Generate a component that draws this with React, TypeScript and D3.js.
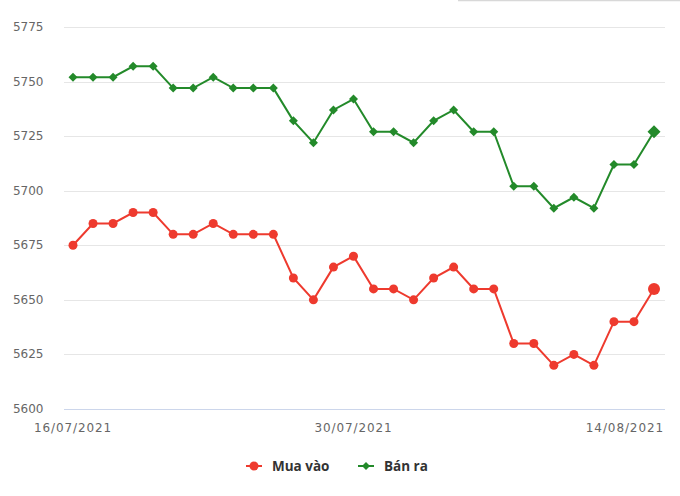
import React from "react";
import * as d3 from "d3";

const dates: string[] = [
  "16/07/2021","17/07/2021","18/07/2021","19/07/2021","20/07/2021","21/07/2021","22/07/2021","23/07/2021","24/07/2021","25/07/2021",
  "26/07/2021","27/07/2021","28/07/2021","29/07/2021","30/07/2021","31/07/2021","01/08/2021","02/08/2021","03/08/2021","04/08/2021",
  "05/08/2021","06/08/2021","07/08/2021","08/08/2021","09/08/2021","10/08/2021","11/08/2021","12/08/2021","13/08/2021","14/08/2021",
];
const muaVao: number[] = [
  5675, 5685, 5685, 5690, 5690, 5680, 5680, 5685, 5680, 5680,
  5680, 5660, 5650, 5665, 5670, 5655, 5655, 5650, 5660, 5665,
  5655, 5655, 5630, 5630, 5620, 5625, 5620, 5640, 5640, 5655,
];
const banRa: number[] = [
  5752, 5752, 5752, 5757, 5757, 5747, 5747, 5752, 5747, 5747,
  5747, 5732, 5722, 5737, 5742, 5727, 5727, 5722, 5732, 5737,
  5727, 5727, 5702, 5702, 5692, 5697, 5692, 5712, 5712, 5727,
];
const yTicks: number[] = [5600, 5625, 5650, 5675, 5700, 5725, 5750, 5775];
const xTickIdx: number[] = [0, 14, 29];
const seriesNames = ["Mua vào", "Bán ra"];
const RED = "#ee3a2e";
const GREEN = "#238a2a";

export default function App() {
  const W = 680, H = 496;
  const plotL = 64, plotR = 665;
  const x = d3.scaleLinear().domain([0, dates.length - 1]).range([73, 654]);
  const y = d3.scaleLinear().domain([5600, 5775]).range([409, 27]);
  const line = d3.line<number>().x((_, i) => x(i)).y((d) => y(d));
  const font = "'DejaVu Sans', Verdana, sans-serif";
  const legendFont = "'Open Sans', sans-serif";
  const diamond = (cx: number, cy: number, r: number) =>
    `M${cx},${cy - r}L${cx + r},${cy}L${cx},${cy + r}L${cx - r},${cy}Z`;
  const last = dates.length - 1;

  return (
    <svg width={W} height={H} style={{ position: "absolute", left: 0, top: 0, background: "#fff" }}>
      <line x1={458} x2={680} y1={0.5} y2={0.5} stroke="#d8d8d8" strokeWidth={1.5} />
      {yTicks.map((t) => (
        <g key={t}>
          <line x1={plotL} x2={plotR} y1={Math.round(y(t)) + 0.5} y2={Math.round(y(t)) + 0.5}
            stroke={t === 5600 ? "#ccd6eb" : "#e6e6e6"} strokeWidth={1} />
          <text x={43.5} y={y(t) + 4} textAnchor="end" fontFamily={font} fontSize={12} fill="#666">{t}</text>
        </g>
      ))}
      {xTickIdx.map((i, k) => (
        <text key={i} x={k === xTickIdx.length - 1 ? 664 : x(i)} y={432}
          textAnchor={k === xTickIdx.length - 1 ? "end" : "middle"}
          fontFamily={font} fontSize={12} letterSpacing={0.9} fill="#666">{dates[i]}</text>
      ))}
      <path d={line(banRa) || ""} fill="none" stroke={GREEN} strokeWidth={2} />
      {banRa.map((v, i) => (
        <path key={i} d={diamond(x(i), y(v), i === last ? 6.5 : 4.5)} fill={GREEN} />
      ))}
      <path d={line(muaVao) || ""} fill="none" stroke={RED} strokeWidth={2} />
      {muaVao.map((v, i) => (
        <circle key={i} cx={x(i)} cy={y(v)} r={i === last ? 6 : 4.5} fill={RED} />
      ))}
      <g>
        <line x1={246} x2={262} y1={466} y2={466} stroke={RED} strokeWidth={2} />
        <circle cx={254} cy={466} r={4.5} fill={RED} />
        <text x={272} y={471} fontFamily={legendFont} fontSize={13.5} fontWeight="bold" fill="#333">{seriesNames[0]}</text>
        <line x1={358} x2={374} y1={466} y2={466} stroke={GREEN} strokeWidth={2} />
        <path d={diamond(366, 466, 4)} fill={GREEN} />
        <text x={384} y={471} fontFamily={legendFont} fontSize={13.5} fontWeight="bold" fill="#333">{seriesNames[1]}</text>
      </g>
    </svg>
  );
}
